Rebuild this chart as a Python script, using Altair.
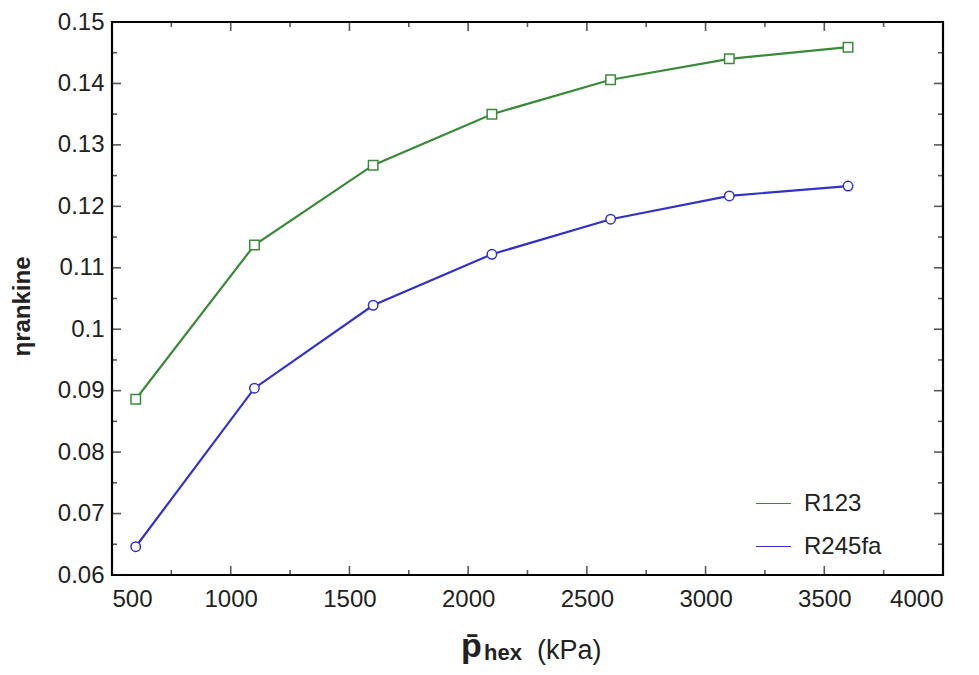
import altair as alt
import pandas as pd

pressure = [600, 1100, 1600, 2100, 2600, 3100, 3600]
eta_r123 = [0.0886, 0.1137, 0.1267, 0.1350, 0.1406, 0.1440, 0.1459]
eta_r245fa = [0.0646, 0.0904, 0.1039, 0.1122, 0.1179, 0.1217, 0.1233]
series_names = ["R123", "R245fa"]
series_colors = ["#3a8a3a", "#3232c8"]
series_shapes = ["square", "circle"]

x_major = [500, 1000, 1500, 2000, 2500, 3000, 3500, 4000]
x_minor = [750, 1250, 1750, 2250, 2750, 3250, 3750]
y_major = [0.06, 0.07, 0.08, 0.09, 0.10, 0.11, 0.12, 0.13, 0.14, 0.15]
y_minor = [0.065, 0.075, 0.085, 0.095, 0.105, 0.115, 0.125, 0.135, 0.145]

W, H = 831, 553

df = pd.DataFrame({
    "p": pressure * 2,
    "eta": eta_r123 + eta_r245fa,
    "series": [series_names[0]] * len(pressure) + [series_names[1]] * len(pressure),
})

xs = alt.Scale(domain=[500, 4000], nice=False, zero=False)
ys = alt.Scale(domain=[0.06, 0.15], nice=False, zero=False)
cs = alt.Scale(domain=series_names, range=series_colors)

x_axis = alt.Axis(values=x_major, format="d", title=None, ticks=False, domain=False, grid=False,
                  labelFontSize=24, labelPadding=12, labelColor="#222", labelFont="Liberation Sans")
y_axis = alt.Axis(values=y_major, format=".2~f", title="ηrankine", ticks=False, domain=False, grid=False,
                  labelFontSize=24, labelPadding=8, labelColor="#222", labelFont="Liberation Sans",
                  titleFontSize=24, titleFontWeight="bold", titleFont="Liberation Sans",
                  titleColor="#222", titleX=-78, titleY=284)

base = alt.Chart(df)

lines = base.mark_line(strokeWidth=2.2).encode(
    x=alt.X("p:Q", scale=xs, axis=x_axis),
    y=alt.Y("eta:Q", scale=ys, axis=y_axis),
    color=alt.Color("series:N", scale=cs, legend=alt.Legend(
        title=None, orient="none", legendX=643, legendY=463, symbolType="stroke",
        symbolSize=1225, symbolStrokeWidth=1.2, labelFontSize=24, labelFont="Liberation Sans",
        labelColor="#222", rowPadding=12, padding=0, labelOffset=12)),
)

point_layers = []
for name, col, shp in zip(series_names, series_colors, series_shapes):
    point_layers.append(
        base.transform_filter(alt.datum.series == name).mark_point(
            shape=shp, filled=False, size=90, strokeWidth=1.5, color=col, fill="white", fillOpacity=1
        ).encode(x=alt.X("p:Q", scale=xs), y=alt.Y("eta:Q", scale=ys))
    )

def xticks(vals, size, yval):
    return alt.Chart(pd.DataFrame({"v": vals})).mark_tick(
        orient="vertical", size=size, thickness=1.6, color="#111", clip=True
    ).encode(x=alt.X("v:Q", scale=xs), y=alt.value(yval))

def yticks(vals, size, xval):
    return alt.Chart(pd.DataFrame({"v": vals})).mark_tick(
        orient="horizontal", size=size, thickness=1.6, color="#111", clip=True
    ).encode(y=alt.Y("v:Q", scale=ys), x=alt.value(xval))

ticks = [
    xticks(x_major, 18, H), xticks(x_minor, 10, H),
    xticks(x_major, 18, 0), xticks(x_minor, 10, 0),
    yticks(y_major, 18, 0), yticks(y_minor, 10, 0),
    yticks(y_major, 18, W), yticks(y_minor, 10, W),
]

one = pd.DataFrame({"t": [""]})
t_p = alt.Chart(one).mark_text(text="p̄", fontSize=34, fontWeight="bold", font="Liberation Sans",
                               align="left", baseline="alphabetic", color="#222").encode(
    x=alt.value(349), y=alt.value(635))
t_hex = alt.Chart(one).mark_text(text="hex", fontSize=22, fontWeight="bold", font="Liberation Sans",
                                 align="left", baseline="alphabetic", color="#222").encode(
    x=alt.value(372), y=alt.value(638))
t_kpa = alt.Chart(one).mark_text(text="(kPa)", fontSize=27, font="Liberation Sans",
                                 align="left", baseline="alphabetic", color="#222").encode(
    x=alt.value(425), y=alt.value(637))

chart = alt.layer(*ticks, lines, *point_layers, t_p, t_hex, t_kpa).properties(
    width=W, height=H,
    background="white",
    autosize=alt.AutoSizeParams(type="none"),
    padding={"left": 104, "top": 14, "right": 28, "bottom": 92},
).configure_view(stroke="black", strokeWidth=2.2)

chart.save("out.html", embed_options={"renderer": "svg", "actions": False})
